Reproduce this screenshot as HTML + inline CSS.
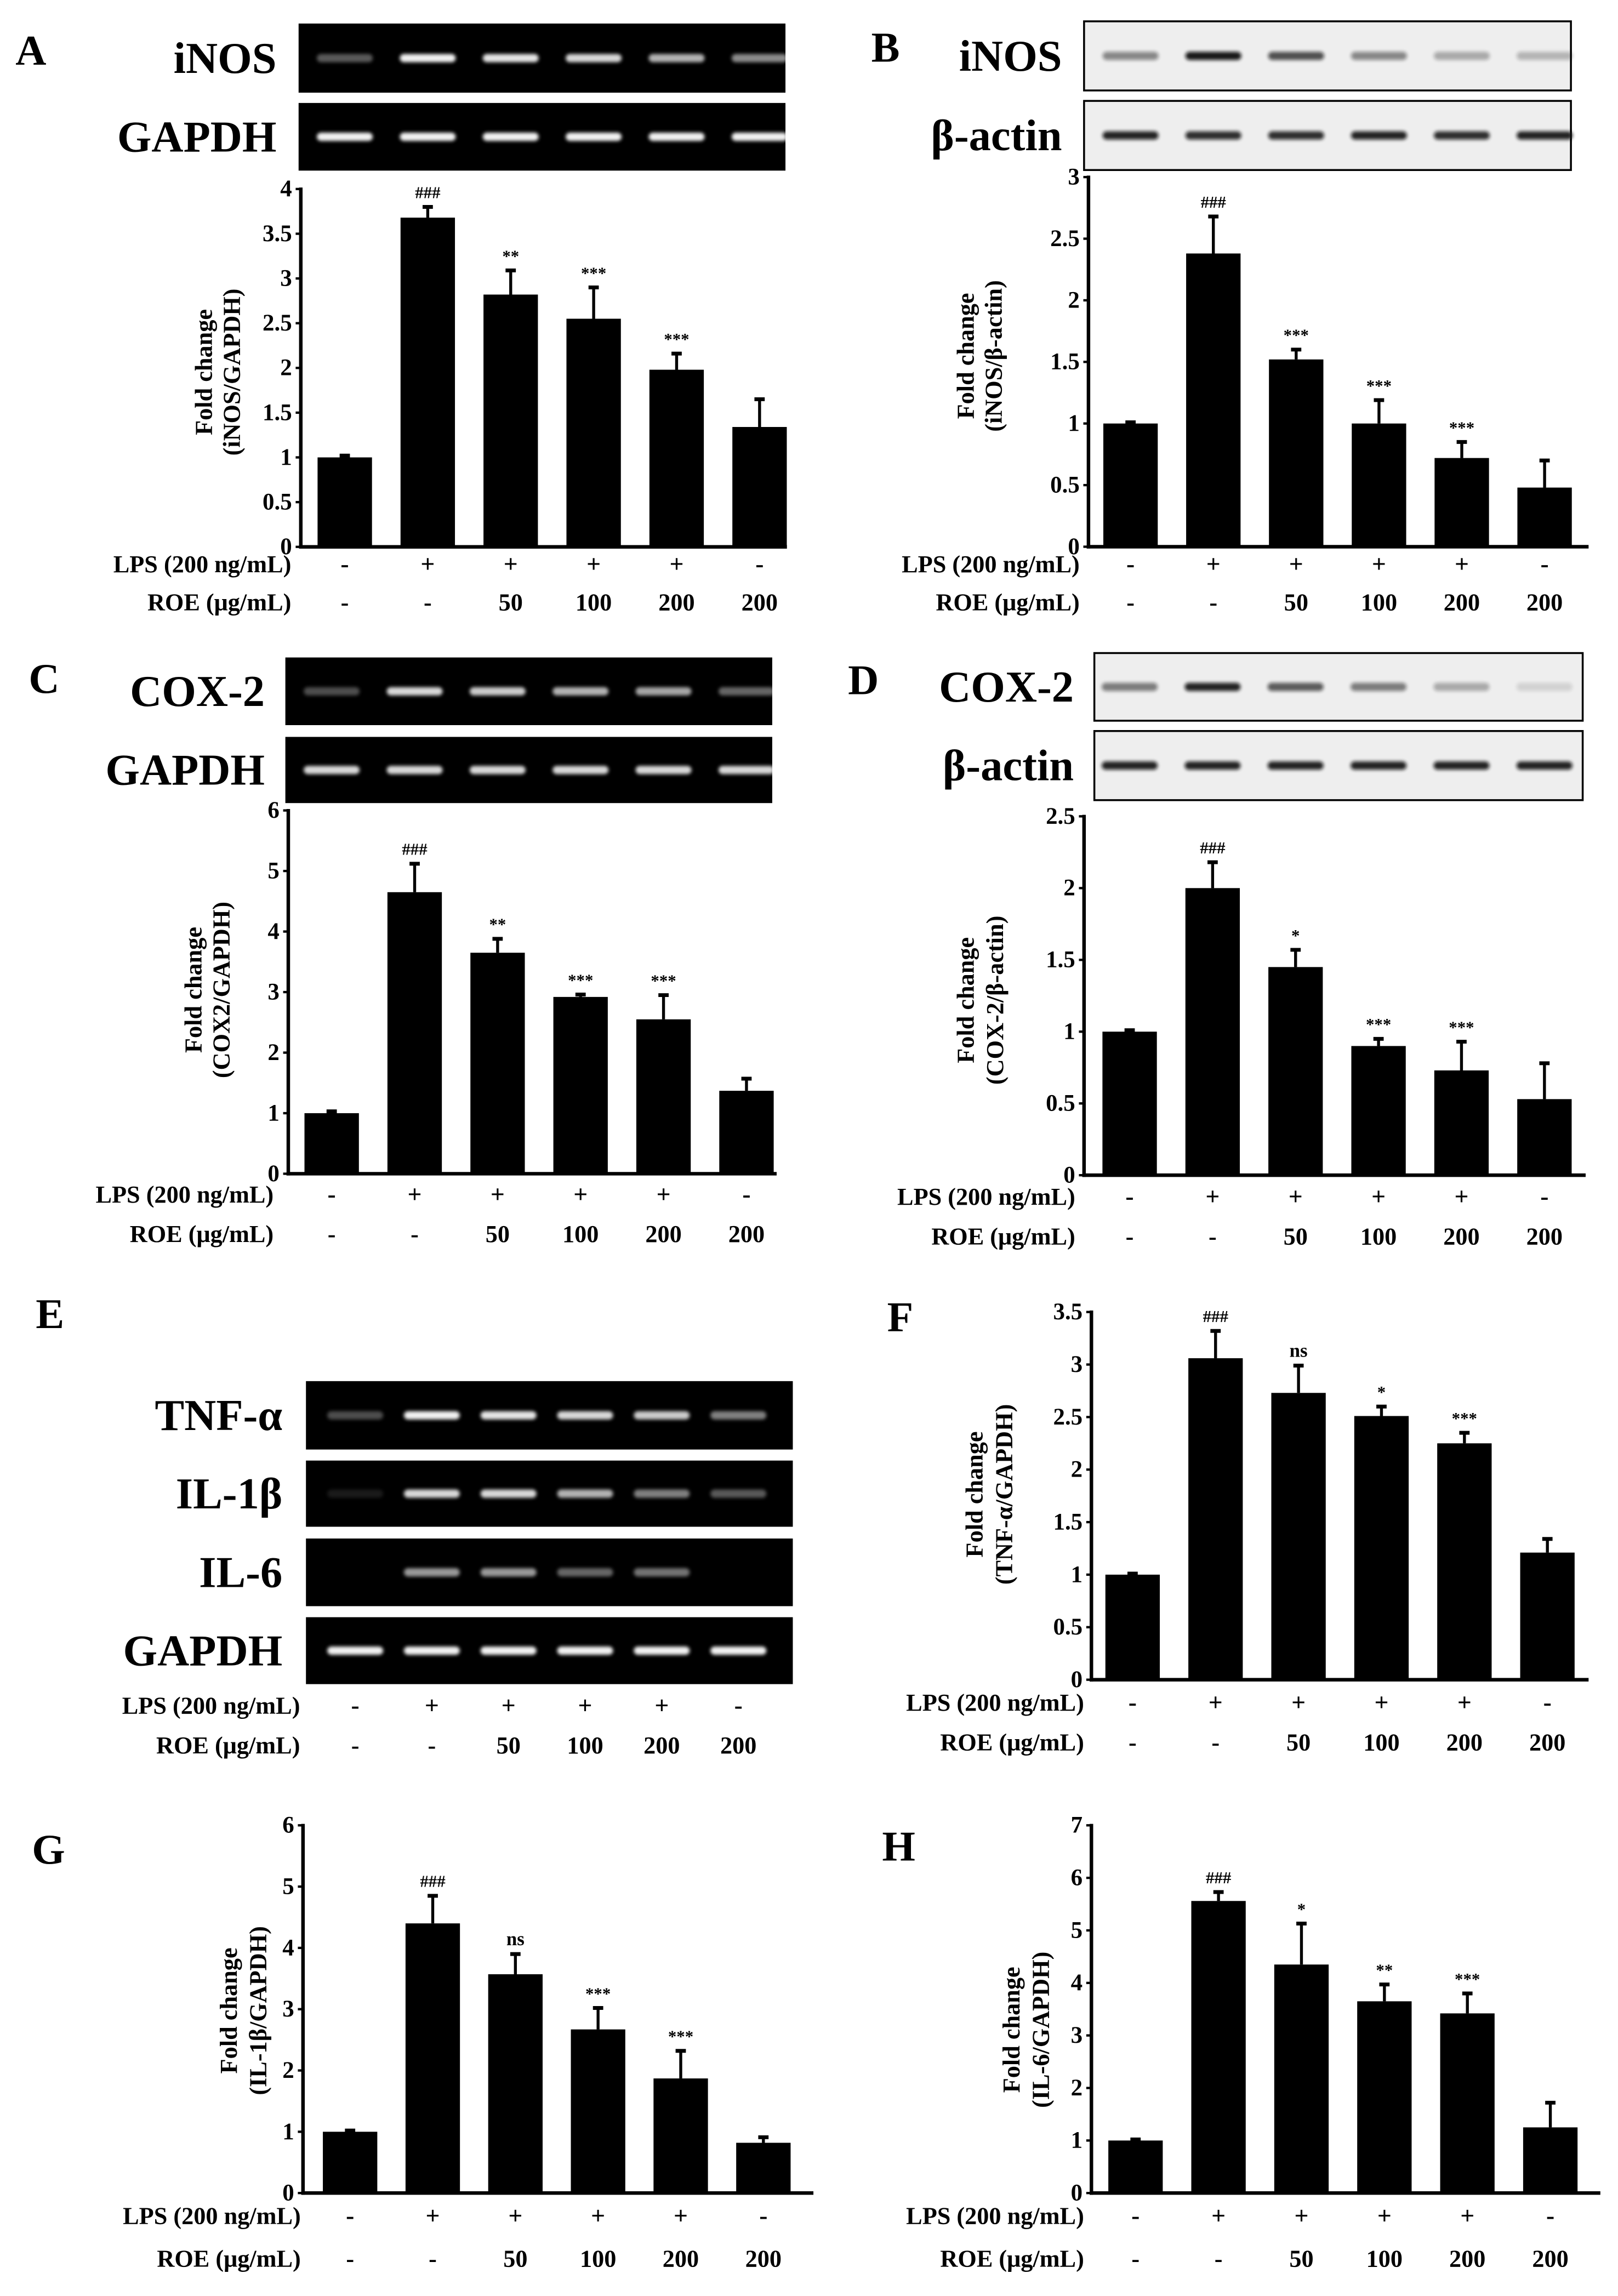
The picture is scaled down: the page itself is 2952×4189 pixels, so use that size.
<!DOCTYPE html>
<html><head><meta charset="utf-8"><style>
html,body{margin:0;padding:0;background:#fff;}
svg{display:block;}
text{font-family:"Liberation Serif","DejaVu Serif",serif;font-weight:bold;fill:#000;}
</style></head>
<body>
<svg id="fig" width="2952" height="4189" viewBox="0 0 1100 1561" preserveAspectRatio="none" xmlns="http://www.w3.org/2000/svg">
<defs><filter id="blur" x="-20%" y="-100%" width="140%" height="300%"><feGaussianBlur stdDeviation="1.2"/></filter></defs>
</svg>
<script>
const categories = ['control','LPS','LPS+ROE50','LPS+ROE100','LPS+ROE200','ROE200'];
const lpsRow = ['-','+','+','+','+','-'];
const roeRow = ['-','-','50','100','200','200'];

const aValues = [1.0, 3.68, 2.82, 2.55, 1.98, 1.34];
const aErrors = [0.02, 0.12, 0.27, 0.35, 0.18, 0.31];
const aSig = ['', '###', '**', '***', '***', ''];
const aTicks = ['0','0.5','1','1.5','2','2.5','3','3.5','4'];

const bValues = [1.0, 2.38, 1.52, 1.0, 0.72, 0.48];
const bErrors = [0.01, 0.3, 0.08, 0.19, 0.13, 0.22];
const bSig = ['', '###', '***', '***', '***', ''];
const bTicks = ['0','0.5','1','1.5','2','2.5','3'];

const cValues = [1.0, 4.65, 3.65, 2.92, 2.55, 1.37];
const cErrors = [0.03, 0.47, 0.23, 0.04, 0.4, 0.2];
const cSig = ['', '###', '**', '***', '***', ''];
const cTicks = ['0','1','2','3','4','5','6'];

const dValues = [1.0, 2.0, 1.45, 0.9, 0.73, 0.53];
const dErrors = [0.01, 0.18, 0.12, 0.05, 0.2, 0.25];
const dSig = ['', '###', '*', '***', '***', ''];
const dTicks = ['0','0.5','1','1.5','2','2.5'];

const fValues = [1.0, 3.06, 2.73, 2.51, 2.25, 1.21];
const fErrors = [0.01, 0.26, 0.26, 0.09, 0.1, 0.13];
const fSig = ['', '###', 'ns', '*', '***', ''];
const fTicks = ['0','0.5','1','1.5','2','2.5','3','3.5'];

const gValues = [1.0, 4.4, 3.57, 2.67, 1.87, 0.82];
const gErrors = [0.02, 0.45, 0.33, 0.35, 0.45, 0.09];
const gSig = ['', '###', 'ns', '***', '***', ''];
const gTicks = ['0','1','2','3','4','5','6'];

const hValues = [1.0, 5.56, 4.35, 3.65, 3.42, 1.25];
const hErrors = [0.02, 0.17, 0.78, 0.32, 0.38, 0.47];
const hSig = ['', '###', '*', '**', '***', ''];
const hTicks = ['0','1','2','3','4','5','6','7'];

const aInos = [0.35,0.95,0.9,0.85,0.7,0.55];
const aGapdh = [0.95,0.95,0.95,0.95,0.95,0.95];
const bInos = [0.45,0.95,0.7,0.45,0.3,0.25];
const bActin = [0.9,0.85,0.85,0.9,0.85,0.9];
const cCox = [0.3,0.85,0.8,0.7,0.65,0.4];
const cGapdh = [0.85,0.85,0.85,0.85,0.85,0.85];
const dCox = [0.5,0.9,0.65,0.5,0.3,0.12];
const dActin = [0.9,0.9,0.9,0.9,0.9,0.9];
const eTnf = [0.3,0.95,0.9,0.85,0.8,0.5];
const eIl1 = [0.1,0.85,0.85,0.7,0.5,0.35];
const eIl6 = [0.0,0.6,0.6,0.4,0.45,0.0];
const eGapdh = [0.95,0.95,0.95,0.95,0.95,0.95];

const svg = document.getElementById('fig');
const NS = 'http://www.w3.org/2000/svg';
function mk(tag, attrs, parent){
  const e = document.createElementNS(NS, tag);
  for (const k in attrs) e.setAttribute(k, attrs[k]);
  (parent || svg).appendChild(e);
  return e;
}
function txt(str, x, y, size, anchor, parent, weight){
  const t = mk('text', {x:x, y:y, 'font-size':size, 'text-anchor':anchor||'middle'}, parent);
  if (weight) t.setAttribute('font-weight', weight);
  t.textContent = str;
  return t;
}

function panelLetter(letter, x, y){
  const t = txt(letter, x, y, 29, 'middle');
  
  
}

function drawGel(name, x, y, w, h, c0, step, intens, dark, label, labelRight){
  const g = mk('g', {});
  
  
  const r = mk('rect', {x:x, y:y, width:w, height:h, fill: dark ? '#000' : '#eeeeee', stroke: dark ? 'none' : '#000', 'stroke-width': dark ? 0 : 1.3}, g);
  
  
  const by = y + h*0.5;
  intens.forEach((v, i) => {
    if (v <= 0) return;
    const cx = c0 + i*step;
    const b = mk('rect', {x:cx-19, y:by-2.8, width:38, height:5.6, rx:2.8, fill: dark ? '#fff' : '#111', opacity:v, filter:'url(#blur)'}, g);
    
    
  });
  const t = txt(label, labelRight, by + 10, 30, 'end', g);
  
  
}

function drawRows(name, labelRight, c0, step, lpsY, roeY){
  const g = mk('g', {});
  
  
  const l1 = txt('LPS (200 ng/mL)', labelRight, lpsY + 6, 16.5, 'end', g);
  
  
  const l2 = txt('ROE (μg/mL)', labelRight, roeY + 6, 16.5, 'end', g);
  
  
  lpsRow.forEach((s, i) => {
    const t = txt(s, c0 + i*step, lpsY + 6, 17, 'middle', g);
    
    
  });
  roeRow.forEach((s, i) => {
    const t = txt(s, c0 + i*step, roeY + 6, 16.5, 'middle', g);
    
    
  });
}

function drawChart(cfg, values, errors, sig, ticks){
  const g = mk('g', {});
  
  
  const max = parseFloat(ticks[ticks.length-1]);
  const yS = v => cfg.yBot - (v/max)*(cfg.yBot - cfg.yTop);
  const xS = i => cfg.c0 + i*cfg.step;
  values.forEach((v, i) => {
    const cx = xS(i);
    const top = yS(v);
    const bar = mk('rect', {x:cx-18.5, y:top, width:37, height:cfg.yBot-top, fill:'#000'}, g);
    
    
    const et = yS(v + errors[i]);
    const el = mk('line', {x1:cx, x2:cx, y1:top, y2:et, stroke:'#000', 'stroke-width':2}, g);
    
    
    const cap = mk('line', {x1:cx-3.5, x2:cx+3.5, y1:et, y2:et, stroke:'#000', 'stroke-width':2.6}, g);
    
    
    if (sig[i]) {
      const s = txt(sig[i], cx, et - 6, sig[i]==='ns' ? 13 : 11.5, 'middle', g, sig[i]==='ns' ? 'bold' : 'normal');
      
      
    }
  });
  const ya = mk('line', {x1:cfg.x0, x2:cfg.x0, y1:cfg.yTop-1, y2:cfg.yBot+1.2, stroke:'#000', 'stroke-width':2.4}, g);
  
  
  const xa = mk('line', {x1:cfg.x0-1.2, x2:cfg.x1, y1:cfg.yBot, y2:cfg.yBot, stroke:'#000', 'stroke-width':2.4}, g);
  
  
  ticks.forEach(tk => {
    const ty = yS(parseFloat(tk));
    const tl = mk('line', {x1:cfg.x0-3.5, x2:cfg.x0, y1:ty, y2:ty, stroke:'#000', 'stroke-width':1.6}, g);
    
    
    const t = txt(tk, cfg.x0 - 6, ty + 5, 16, 'end', g);
    
    
  });
  const tg = mk('g', {transform:'translate(' + cfg.tx + ',' + cfg.ty + ') rotate(-90)'}, g);
  
  
  txt('Fold change', 0, 0, 16.5, 'middle', tg);
  txt(cfg.title2, 0, cfg.lineGap, 16.5, 'middle', tg);
}

panelLetter('A', 21, 44);
drawGel('gel-inos-a', 203, 16, 331, 47, 234.4, 56.4, aInos, true, 'iNOS', 188);
drawGel('gel-gapdh-a', 203, 70, 331, 46, 234.4, 56.4, aGapdh, true, 'GAPDH', 188);
drawChart({name:'chart-a', x0:204.5, x1:535, yTop:128.5, yBot:371.8, c0:234.4, step:56.4, tx:144, ty:253, title2:'(iNOS/GAPDH)', lineGap:19}, aValues, aErrors, aSig, aTicks);
drawRows('conditions-a', 198, 234.4, 56.4, 383, 409);

panelLetter('B', 602, 42);
drawGel('gel-inos-b', 737, 14.5, 331, 47, 768.6, 56.3, bInos, false, 'iNOS', 722);
drawGel('gel-actin-b', 737, 68.6, 331, 47, 768.6, 56.3, bActin, false, 'β-actin', 722);
drawChart({name:'chart-b', x0:740, x1:1080, yTop:120.4, yBot:371.7, c0:768.6, step:56.3, tx:662, ty:242, title2:'(iNOS/β-actin)', lineGap:19}, bValues, bErrors, bSig, bTicks);
drawRows('conditions-b', 734, 768.6, 56.3, 383, 409);

panelLetter('C', 30, 471);
drawGel('gel-cox2-c', 194, 447, 331, 46, 225.5, 56.4, cCox, true, 'COX-2', 180);
drawGel('gel-gapdh-c', 194, 501, 331, 45, 225.5, 56.4, cGapdh, true, 'GAPDH', 180);
drawChart({name:'chart-c', x0:196, x1:528, yTop:551, yBot:798, c0:225.5, step:56.4, tx:137, ty:673, title2:'(COX2/GAPDH)', lineGap:19}, cValues, cErrors, cSig, cTicks);
drawRows('conditions-c', 186, 225.5, 56.4, 811.6, 838.5);

panelLetter('D', 587, 472);
drawGel('gel-cox2-d', 744, 444, 332, 46, 768, 56.4, dCox, false, 'COX-2', 730);
drawGel('gel-actin-d', 744, 497, 332, 47, 768, 56.4, dActin, false, 'β-actin', 730);
drawChart({name:'chart-d', x0:737, x1:1078, yTop:555, yBot:799, c0:768, step:56.4, tx:662, ty:680, title2:'(COX-2/β-actin)', lineGap:20}, dValues, dErrors, dSig, dTicks);
drawRows('conditions-d', 731, 768, 56.4, 813, 840);

panelLetter('E', 34, 903);
drawGel('gel-tnf-e', 208, 939, 331, 46.5, 241.5, 52.1, eTnf, true, 'TNF-α', 192);
drawGel('gel-il1b-e', 208, 993, 331, 45, 241.5, 52.1, eIl1, true, 'IL-1β', 192);
drawGel('gel-il6-e', 208, 1046, 331, 46, 241.5, 52.1, eIl6, true, 'IL-6', 192);
drawGel('gel-gapdh-e', 208, 1099.5, 331, 45.5, 241.5, 52.1, eGapdh, true, 'GAPDH', 192);
drawRows('conditions-e', 204, 241.5, 52.1, 1159, 1186);

panelLetter('F', 612, 905);
drawChart({name:'chart-f', x0:742, x1:1080, yTop:892, yBot:1142, c0:770, step:56.4, tx:668, ty:1016, title2:'(TNF-α/GAPDH)', lineGap:20}, fValues, fErrors, fSig, fTicks);
drawRows('conditions-f', 737, 770, 56.4, 1157, 1184);

panelLetter('G', 33, 1267);
drawChart({name:'chart-g', x0:206, x1:553, yTop:1241, yBot:1491, c0:238, step:56.2, tx:161, ty:1367, title2:'(IL-1β/GAPDH)', lineGap:20}, gValues, gErrors, gSig, gTicks);
drawRows('conditions-g', 204.5, 238, 56.2, 1506, 1535);

panelLetter('H', 611, 1265);
drawChart({name:'chart-h', x0:742, x1:1088, yTop:1241, yBot:1491, c0:772, step:56.4, tx:693, ty:1380, title2:'(IL-6/GAPDH)', lineGap:20}, hValues, hErrors, hSig, hTicks);
drawRows('conditions-h', 737, 772, 56.4, 1506, 1535);
</script>
</body></html>
